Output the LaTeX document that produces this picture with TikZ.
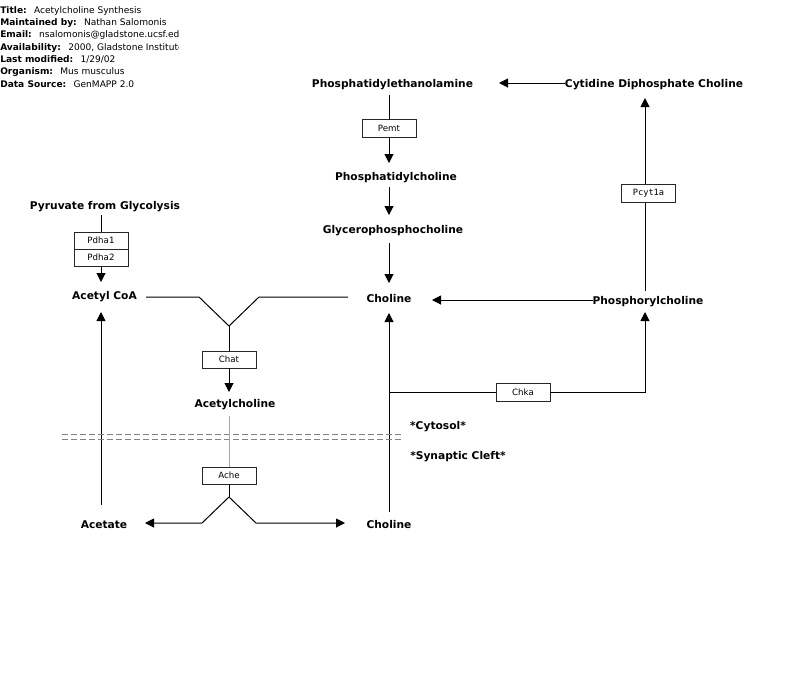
\documentclass[tikz,border=0pt]{standalone}
\usepackage{fontspec}
\setmainfont{DejaVu Sans}
\newfontfamily\genemono{DejaVu Sans Mono}
\usetikzlibrary{arrows.meta}
\begin{document}
\begin{tikzpicture}[x=0.75pt,y=-0.75pt,
  lbl/.style={font=\fontsize{8}{9.6}\selectfont\bfseries, inner sep=0, yshift=-1.5pt},
  hdr/.style={font=\fontsize{6.8}{8}\selectfont, inner sep=0, anchor=west, yshift=-1.3pt},
  gene/.style={draw=black!85, fill=white, line width=0.6pt, minimum width=40.5pt, minimum height=13.5pt, inner sep=0, font=\fontsize{6.5}{7}\selectfont},
  ln/.style={line width=0.75pt},
  arr/.style={ln, -{Triangle[length=6.75pt,width=6.75pt]}},
  membrane/.style={gray, line width=0.6pt, dash pattern=on 4.5pt off 2.25pt}]
\useasboundingbox[fill=white] (0,0) rectangle (800,687);

% header
\begin{scope}
\clip (0,0) rectangle (178,95);
\node[hdr] (h1) at (0,9)  {\textbf{Title:}\hspace{0.8em}Acetylcholine Synthesis};
\node[hdr] (h2) at (0,21) {\textbf{Maintained by:}\hspace{0.8em}Nathan Salomonis};
\node[hdr] (h3) at (0,33) {\textbf{Email:}\hspace{0.8em}nsalomonis@gladstone.ucsf.edu};
\node[hdr] (h4) at (0,46) {\textbf{Availability:}\hspace{0.8em}2000, Gladstone Institutes};
\node[hdr] (h5) at (0,58) {\textbf{Last modified:}\hspace{0.8em}1/29/02};
\node[hdr] (h6) at (0,70) {\textbf{Organism:}\hspace{0.8em}Mus musculus};
\node[hdr] (h7) at (0,82) {\textbf{Data Source:}\hspace{0.8em}GenMAPP 2.0};
\end{scope}

% metabolite labels
\node[lbl] (pe)   at (392.5,83) {Phosphatidylethanolamine};
\node[lbl] (cdc)  at (654,83)   {Cytidine Diphosphate Choline};
\node[lbl] (pc)   at (396,176)  {Phosphatidylcholine};
\node[lbl] (gpc)  at (393,229)  {Glycerophosphocholine};
\node[lbl] (chol) at (389,297)  {Choline};
\node[lbl] (pch)  at (648,300)  {Phosphorylcholine};
\node[lbl] (pyr)  at (105,205)  {Pyruvate from Glycolysis};
\node[lbl] (acoa) at (104.5,295) {Acetyl CoA};
\node[lbl] (ach)  at (235,403)  {Acetylcholine};
\node[lbl] (acet) at (104,523)  {Acetate};
\node[lbl] (chol2) at (389,523) {Choline};
\node[lbl] (cyt)  at (438,425)  {*Cytosol*};
\node[lbl] (syn)  at (458,455)  {*Synaptic Cleft*};

% coordinates
\coordinate (peA) at (499,83);
\coordinate (cdcW) at (565,83);
\coordinate (peS) at (389,95);
\coordinate (pcN) at (389,163);
\coordinate (pcS) at (389,187);
\coordinate (gpcN) at (389,215);
\coordinate (gpcS) at (389,243);
\coordinate (cholN) at (389,283);
\coordinate (cholE) at (432,300);
\coordinate (cholB) at (389,313);
\coordinate (pchW) at (593,300);
\coordinate (pchN) at (645,291);
\coordinate (pchB) at (645,312);
\coordinate (cdcS) at (645,98);
\coordinate (pyrS) at (101,215);
\coordinate (acoaN) at (101,282);
\coordinate (acoaS) at (101,312);
\coordinate (acetN) at (101,505);
\coordinate (v1) at (146,297);
\coordinate (v2) at (199,297);
\coordinate (vj) at (229,326);
\coordinate (v3) at (259,297);
\coordinate (v4) at (348,297);
\coordinate (achN) at (229,392);
\coordinate (achS) at (229,416);
\coordinate (apex) at (229,497);
\coordinate (aL) at (202,523);
\coordinate (aR) at (256,523);
\coordinate (acetE) at (145,523);
\coordinate (chol2W) at (345,523);
\coordinate (chol2N) at (389,512);
\coordinate (chkaJ) at (389,392);
\coordinate (chkaR) at (645,392);

% connectors (drawn before gene boxes)
\draw[arr] (cdcW) -- (peA);
\draw[arr] (pchW) -- (cholE);
\draw[arr] (pchN) -- (cdcS);
\draw[arr] (pcS) -- (gpcN);
\draw[arr] (gpcS) -- (cholN);
\draw[arr] (acetN) -- (acoaS);
\draw[ln] (v1) -- (v2) -- (vj) -- (v3) -- (v4);
\draw[arr] (apex) -- (aL) -- (acetE);
\draw[arr] (apex) -- (aR) -- (chol2W);
\draw[arr] (chol2N) -- (cholB);

% membrane
\coordinate (m1a) at (62,434);  \coordinate (m1b) at (402,434);
\coordinate (m2a) at (62,439);  \coordinate (m2b) at (402,439);
\draw[membrane] (m1a) -- (m1b);
\draw[membrane] (m2a) -- (m2b);

% gene boxes
\node[gene] (pemt) at (389,128) {Pemt};
\node[gene] (pcyt) at (648.5,193) {\genemono Pcyt1a};
\node[gene, minimum height=12.75pt] (pdha1) at (101,240.5) {Pdha1};
\node[gene, minimum height=12.75pt] (pdha2) at (101,257.5) {Pdha2};
\node[gene, minimum height=12.75pt] (chat) at (229,359.5) {Chat};
\node[gene, minimum height=12.75pt] (ache) at (229,475.5) {Ache};
\node[gene] (chka) at (523,392) {Chka};

\draw[ln] (peS) -- (pemt.north);
\draw[arr] (pemt.south) -- (pcN);
\draw[ln] (pyrS) -- (pdha1.north);
\draw[arr] (pdha2.south) -- (acoaN);
\draw[ln] (vj) -- (chat.north);
\draw[arr] (chat.south) -- (achN);
\draw[ln, gray!70] (achS) -- (ache.north);
\draw[ln] (ache.south) -- (apex);
\draw[ln] (chkaJ) -- (chka.west);
\draw[arr] (chka.east) -- (chkaR) -- (pchB);
\end{tikzpicture}
\end{document}
